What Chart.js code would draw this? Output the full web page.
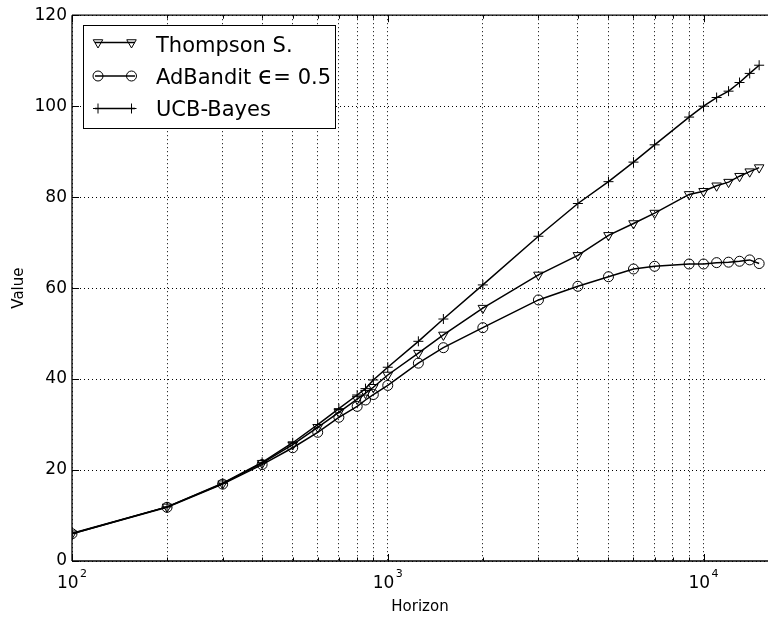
<!DOCTYPE html>
<html>
<head>
<meta charset="utf-8">
<script src="https://cdn.jsdelivr.net/npm/chart.js@4.4.1/dist/chart.umd.min.js"></script>
<style>
  html, body { margin: 0; padding: 0; background: #fff; overflow: hidden; }
</style>
</head>
<body>
<canvas id="chart" width="768" height="620"></canvas>
<script>
/* ---------------- DATA ---------------- */
const horizon = [100, 200, 300, 400, 500, 600, 700, 800, 850, 900, 1000, 1250, 1500,
  2000, 3000, 4000, 5000, 6000, 7000, 9000, 10000, 11000, 12000, 13000, 14000, 15000];

const thompson = [6.0, 11.9, 17.0, 21.5, 25.6, 29.4, 32.7, 35.6, 36.9, 38.2, 40.9, 45.7, 49.7,
  55.6, 62.9, 67.2, 71.6, 74.2, 76.5, 80.6, 81.3, 82.5, 83.3, 84.6, 85.6, 86.5];

const adBandit = [6.0, 11.8, 16.9, 21.2, 24.9, 28.3, 31.6, 34.0, 35.4, 36.6, 38.6, 43.5, 46.9,
  51.3, 57.4, 60.4, 62.5, 64.2, 64.8, 65.3, 65.3, 65.6, 65.7, 65.9, 66.2, 65.4];

const ucbBayes = [6.1, 11.9, 17.1, 21.7, 26.0, 30.0, 33.5, 36.5, 37.9, 39.8, 42.6, 48.3, 53.2,
  60.7, 71.4, 78.6, 83.4, 87.7, 91.5, 97.6, 100.0, 101.9, 103.3, 105.2, 107.2, 109.0];

// legend text, split so the epsilon can be drawn at math size
const seriesNames = ["Thompson S.", "AdBandit \u03f5= 0.5", "UCB-Bayes"];
const seriesParts = [
  [["Thompson S.", 21]],
  [["AdBandit ", 21], ["\u03f5", 25], ["= 0.5", 21]],
  [["UCB-Bayes", 21]]
];

// tick labels / grid positions
const xMajor = [100, 1000, 10000];
const xMajorExp = ["2", "3", "4"];
const xMinor = [200, 300, 400, 500, 600, 700, 800, 900,
  2000, 3000, 4000, 5000, 6000, 7000, 8000, 9000];
const yTicks = [0, 20, 40, 60, 80, 100, 120];

const FONT = "DejaVu Sans";
Chart.defaults.font.family = FONT;
Chart.defaults.color = "#000";

function pts(ys) {
  return horizon.map((h, i) => ({ x: h, y: ys[i] }));
}

const styles = [
  { pointStyle: "triangle", rotation: 180, radius: 5.5 },
  { pointStyle: "circle", rotation: 0, radius: 5 },
  { pointStyle: "cross", rotation: 0, radius: 5 }
];

function makeSet(label, ys, st) {
  return {
    label,
    data: pts(ys),
    borderColor: "#000",
    borderWidth: 1.5,
    backgroundColor: "rgba(0,0,0,0)",
    pointStyle: st.pointStyle,
    pointRotation: st.rotation,
    pointRadius: st.radius,
    pointBorderWidth: 1,
    pointBorderColor: "#000",
    pointBackgroundColor: "rgba(0,0,0,0)",
    tension: 0,
    fill: false
  };
}

/* -------- FRAME, TICKS, X LABELS, LEGEND -------- */
const extras = {
  id: "extras",
  afterDraw(chart) {
    const { ctx, chartArea: a, scales } = chart;
    const xs = scales.x, ys = scales.y;
    ctx.save();
    ctx.strokeStyle = "#000";

    function seg(x1, y1, x2, y2) {
      ctx.beginPath();
      ctx.moveTo(x1, y1);
      ctx.lineTo(x2, y2);
      ctx.stroke();
    }

    // inward ticks (right spine is off the picture)
    ctx.lineWidth = 1;
    yTicks.forEach(v => {
      const py = Math.round(ys.getPixelForValue(v)) + 0.5;
      seg(a.left, py, a.left + 7, py);
    });
    xMajor.forEach(v => {
      const px = Math.round(xs.getPixelForValue(v)) + 0.5;
      seg(px, a.bottom, px, a.bottom - 7);
      seg(px, a.top, px, a.top + 7);
    });
    xMinor.forEach(v => {
      const px = Math.round(xs.getPixelForValue(v)) + 0.5;
      seg(px, a.bottom, px, a.bottom - 3.5);
      seg(px, a.top, px, a.top + 3.5);
    });

    // frame
    ctx.lineWidth = 1.3;
    seg(a.left, a.top, a.right, a.top);
    seg(a.left, a.top, a.left, a.bottom);
    seg(a.left, a.bottom, a.right, a.bottom);

    // x tick labels 10^n
    ctx.fillStyle = "#000";
    ctx.textBaseline = "alphabetic";
    ctx.textAlign = "left";
    xMajor.forEach((v, i) => {
      const px = xs.getPixelForValue(v);
      ctx.font = "17px '" + FONT + "'";
      const w1 = ctx.measureText("10").width;
      ctx.font = "11px '" + FONT + "'";
      const w2 = ctx.measureText(xMajorExp[i]).width;
      const start = px - (w1 + 1.5 + w2) / 2;
      ctx.font = "17px '" + FONT + "'";
      ctx.fillText("10", start, 588);
      ctx.font = "11px '" + FONT + "'";
      ctx.fillText(xMajorExp[i], start + w1 + 1.5, 577);
    });

    // legend
    const box = { x: 83.5, y: 25.5, w: 252, h: 103 };
    ctx.fillStyle = "#fff";
    ctx.fillRect(box.x, box.y, box.w, box.h);
    ctx.lineWidth = 1;
    ctx.strokeRect(box.x, box.y, box.w, box.h);

    const rowY = [42.5, 76, 108.5];
    const baseY = [51.5, 83.5, 115.7];
    chart.data.datasets.forEach((ds, i) => {
      const y = rowY[i];
      ctx.lineWidth = 1.5;
      ctx.strokeStyle = "#000";
      seg(95, y, 135, y);
      const opts = {
        pointStyle: ds.pointStyle,
        rotation: ds.pointRotation,
        radius: ds.pointRadius,
        borderWidth: 1
      };
      ctx.lineWidth = 1;
      ctx.fillStyle = "rgba(0,0,0,0)";
      Chart.helpers.drawPoint(ctx, opts, 98, y);
      Chart.helpers.drawPoint(ctx, opts, 131.5, y);
      ctx.fillStyle = "#000";
      let tx = 156;
      seriesParts[i].forEach(([t, size]) => {
        ctx.font = size + "px '" + FONT + "'";
        ctx.fillText(t, tx, baseY[i]);
        tx += ctx.measureText(t).width;
      });
    });

    ctx.restore();
  }
};

/* ---------------- CHART ---------------- */
new Chart(document.getElementById("chart"), {
  type: "line",
  data: {
    datasets: [
      makeSet(seriesNames[0], thompson, styles[0]),
      makeSet(seriesNames[1], adBandit, styles[1]),
      makeSet(seriesNames[2], ucbBayes, styles[2])
    ]
  },
  options: {
    responsive: false,
    devicePixelRatio: 1,
    animation: false,
    layout: { autoPadding: false, padding: { top: 14, right: 0, left: 0, bottom: 0 } },
    plugins: {
      legend: { display: false },
      tooltip: { enabled: false }
    },
    scales: {
      x: {
        type: "logarithmic",
        min: 100,
        max: 16000,
        afterBuildTicks: s => {
          s.ticks = xMajor.concat(xMinor).sort((p, q) => p - q).map(v => ({ value: v }));
        },
        afterFit: s => { s.height = 59; },
        ticks: { display: false },
        grid: { color: "#000", lineWidth: 1, drawTicks: false },
        border: { display: false, dash: [1, 3] },
        title: {
          display: true,
          text: "Horizon",
          font: { size: 15, family: FONT },
          color: "#000",
          padding: { top: 0, bottom: 4 }
        }
      },
      y: {
        min: 0,
        max: 120,
        afterBuildTicks: s => {
          s.ticks = yTicks.map(v => ({ value: v }));
        },
        afterFit: s => { s.width = 72; },
        ticks: {
          font: { size: 17, family: FONT },
          color: "#000",
          padding: 5
        },
        grid: { color: "#000", lineWidth: 1, drawTicks: false },
        border: { display: false, dash: [1, 3] },
        title: {
          display: true,
          text: "Value",
          font: { size: 15, family: FONT },
          color: "#000",
          padding: { top: 10, bottom: 0 }
        }
      }
    }
  },
  plugins: [extras]
});
</script>
</body>
</html>
